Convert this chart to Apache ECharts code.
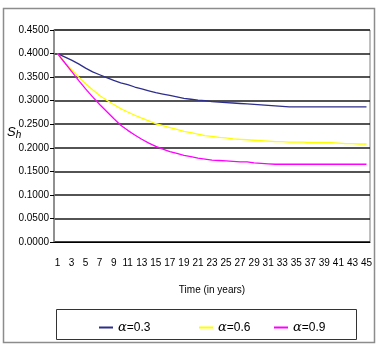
<!DOCTYPE html>
<html>
<head>
<meta charset="utf-8">
<script src="https://cdn.jsdelivr.net/npm/echarts@6/dist/echarts.min.js"></script>
<style>
    html, body { margin: 0; padding: 0; background: #fff; }
    #chart { width: 384px; height: 346px; }
</style>
</head>
<body>
<div id="chart"></div>
<script>
var years = [];
for (var i = 1; i <= 45; i++) { years.push(String(i)); }

var alpha03 = [0.400, 0.393, 0.386, 0.378, 0.369, 0.361, 0.355, 0.349, 0.343, 0.338,
    0.334, 0.329, 0.325, 0.321, 0.317, 0.314, 0.311, 0.308, 0.305, 0.303,
    0.301, 0.300, 0.298, 0.297, 0.296, 0.295, 0.294, 0.293, 0.292, 0.291,
    0.290, 0.289, 0.288, 0.287, 0.287, 0.287, 0.287, 0.287, 0.287, 0.287,
    0.287, 0.287, 0.287, 0.287, 0.287];
var alpha06 = [0.400, 0.382, 0.366, 0.350, 0.336, 0.323, 0.311, 0.301, 0.292, 0.283,
    0.276, 0.269, 0.263, 0.257, 0.251, 0.247, 0.243, 0.239, 0.235, 0.232,
    0.229, 0.226, 0.224, 0.222, 0.221, 0.219, 0.218, 0.217, 0.216, 0.215,
    0.214, 0.213, 0.213, 0.212, 0.212, 0.212, 0.211, 0.211, 0.211, 0.211,
    0.210, 0.209, 0.209, 0.208, 0.208];
var alpha09 = [0.400, 0.381, 0.362, 0.343, 0.325, 0.308, 0.292, 0.277, 0.262, 0.248,
    0.237, 0.227, 0.218, 0.210, 0.203, 0.197, 0.192, 0.188, 0.184, 0.181,
    0.178, 0.176, 0.174, 0.173, 0.172, 0.171, 0.170, 0.170, 0.168, 0.167,
    0.166, 0.165, 0.165, 0.165, 0.165, 0.165, 0.165, 0.165, 0.165, 0.165,
    0.165, 0.165, 0.165, 0.165, 0.165];
var seriesNames = ['α=0.3', 'α=0.6', 'α=0.9'];
var colors = ['#2e2e8c', '#ffff00', '#ff00ff'];

var font = '"Liberation Sans", Arial, sans-serif';
var legendText = {
    fontFamily: font, fontSize: 12, color: '#000',
    rich: { a: { fontFamily: '"DejaVu Serif", serif', fontStyle: 'italic', fontSize: 13 },
            b: { fontFamily: font, fontSize: 12 } }
};
function legendAt(idx, left) {
    return {
        data: [seriesNames[idx]], left: left, top: 316,
        icon: 'rect', itemWidth: 14, itemHeight: 2,
        textStyle: legendText,
        formatter: function (n) { return '{a|α}{b|' + n.slice(1) + '}'; }
    };
}

var chart = echarts.init(document.getElementById('chart'));
var option = {
    animation: false,
    backgroundColor: '#fff',
    grid: { left: 54, right: 14, top: 30, bottom: 104, show: true, borderColor: '#808080', borderWidth: 1 },
    legend: [legendAt(0, 94), legendAt(1, 194), legendAt(2, 269)],
    graphic: [
        { type: 'rect', shape: { x: 3.5, y: 8.5, width: 371, height: 334 },
          style: { fill: null, stroke: '#8c8c8c', lineWidth: 1.5 }, silent: true },
        { type: 'rect', shape: { x: 56.5, y: 309.5, width: 300, height: 30 },
          style: { fill: null, stroke: '#333', lineWidth: 1 }, silent: true, z: -1 },
        { type: 'text', left: 7, top: 126,
          style: { text: '{s|S}{h|h}',
                   rich: { s: { fontFamily: font, fontStyle: 'italic', fontSize: 13, fill: '#000' },
                           h: { fontFamily: font, fontStyle: 'italic', fontSize: 10, fill: '#000', padding: [6, 0, 0, 0] } } } }
    ],
    xAxis: {
        type: 'category',
        data: years,
        boundaryGap: true,
        name: 'Time (in years)',
        nameLocation: 'middle',
        nameGap: 43,
        nameTextStyle: { fontFamily: font, fontSize: 10, color: '#000' },
        axisLine: { lineStyle: { color: '#000', width: 1 } },
        axisTick: { interval: 0, length: 5, lineStyle: { color: '#000' } },
        axisLabel: { interval: 1, margin: 16, fontFamily: font, fontSize: 10, color: '#000' },
        splitLine: { show: false }
    },
    yAxis: {
        type: 'value',
        min: 0,
        max: 0.45,
        interval: 0.05,
        axisLine: { show: true, lineStyle: { color: '#808080', width: 1.5 } },
        axisTick: { show: true, length: 4, lineStyle: { color: '#000' } },
        axisLabel: { margin: 5, fontFamily: font, fontSize: 10, color: '#000',
                     formatter: function (v) { return v.toFixed(4); } },
        splitLine: { lineStyle: { color: '#1a1a1a', width: 1.5 } }
    },
    series: [
        { name: seriesNames[0], type: 'line', data: alpha03, showSymbol: false,
          itemStyle: { color: colors[0] }, lineStyle: { color: colors[0], width: 1.3 } },
        { name: seriesNames[1], type: 'line', data: alpha06, showSymbol: false,
          itemStyle: { color: colors[1] }, lineStyle: { color: colors[1], width: 1.3 } },
        { name: seriesNames[2], type: 'line', data: alpha09, showSymbol: false,
          itemStyle: { color: colors[2] }, lineStyle: { color: colors[2], width: 1.3 } }
    ]
};
chart.setOption(option);
</script>
</body>
</html>
